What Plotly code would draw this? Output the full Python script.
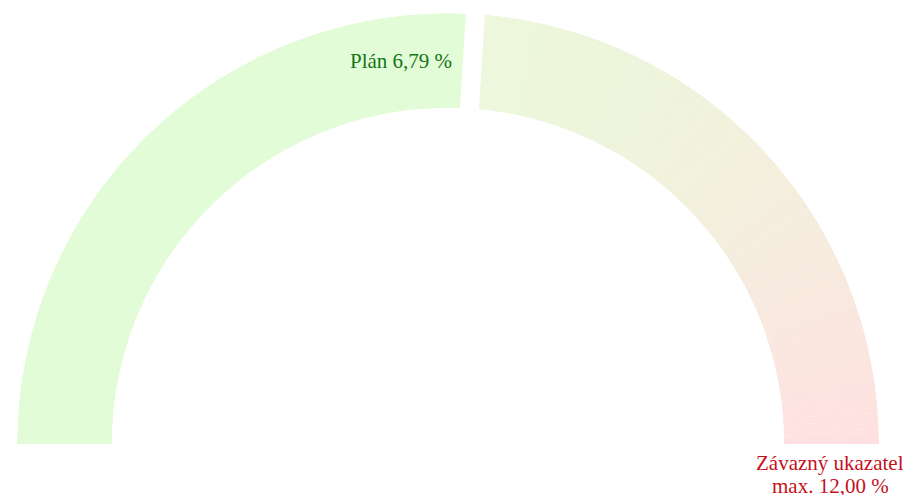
import plotly.graph_objects as go
import numpy as np

# --- data ---
labels = ["Plán", "Závazný ukazatel"]
plan_value = 6.79
limit_value = 12.00
scale_max = 13.05         # gauge end (read from where the split sits)
plan_text = "Plán 6,79 %"
limit_lines = ["Závazný ukazatel", "max. 12,00 %"]

W, H = 906, 495

def px(x):
    return x / W

def py(y):
    return 1 - y / H

green = "rgb(227,252,216)"
top_col = np.array([236, 247, 219])
bot_col = np.array([255, 224, 224])

def to_theta(v):
    return v / scale_max * 180.0

fig = go.Figure()

# plan segment (0 -> plan)
t_plan = to_theta(plan_value)
fig.add_trace(go.Barpolar(
    r=[1], base=[0], theta=[t_plan / 2], width=[t_plan],
    marker=dict(color=green, line=dict(width=0)),
    hoverinfo="skip", showlegend=False, name=labels[0]))

# remaining segment with vertical gradient (plan -> end)
n = 160
edges = np.linspace(t_plan, 180.0, n + 1)
centers = (edges[:-1] + edges[1:]) / 2
widths = np.diff(edges) * 1.05
cols = []
for c in centers:
    h = np.sin(np.radians(c))  # 1 at top, 0 at baseline
    f = 1 - h
    rgb = top_col + (bot_col - top_col) * f
    cols.append("rgb(%d,%d,%d)" % tuple(rgb.round().astype(int)))
fig.add_trace(go.Barpolar(
    r=[1] * n, base=[0] * n, theta=centers, width=widths,
    marker=dict(color=cols, line=dict(width=0)),
    hoverinfo="skip", showlegend=False, name=labels[1]))

# white split between segments
fig.add_trace(go.Scatterpolar(
    r=[0, 1], theta=[t_plan, t_plan], mode="lines",
    line=dict(color="white", width=19),
    hoverinfo="skip", showlegend=False))

R = 431
cx, cy = 448, 444
fig.update_layout(
    width=W, height=H,
    margin=dict(l=0, r=0, t=0, b=0),
    paper_bgcolor="white",
    polar=dict(
        domain=dict(x=[px(cx - R), px(cx + R)], y=[py(cy), py(cy - R)]),
        sector=[0, 180],
        hole=336 / 431,
        bgcolor="white",
        angularaxis=dict(direction="clockwise", rotation=180, visible=False,
                         showgrid=False, showline=False, ticks=""),
        radialaxis=dict(range=[0, 1], visible=False, showgrid=False),
        barmode="overlay",
    ),
    annotations=[
        dict(text=plan_text, x=px(454), y=py(61), xref="paper", yref="paper",
             xanchor="right", yanchor="middle", showarrow=False,
             font=dict(family="Liberation Serif", size=21, color="#157515")),
        dict(text=limit_lines[0], x=px(830), y=py(463), xref="paper", yref="paper",
             xanchor="center", yanchor="middle", showarrow=False,
             font=dict(family="Liberation Serif", size=21, color="#c4121c")),
        dict(text=limit_lines[1], x=px(830), y=py(486), xref="paper", yref="paper",
             xanchor="center", yanchor="middle", showarrow=False,
             font=dict(family="Liberation Serif", size=21, color="#c4121c")),
    ],
)

fig.write_html(
    "out.html",
    config={"displayModeBar": False},
    post_script="document.body.style.margin='0';document.body.style.overflow='hidden';",
)
